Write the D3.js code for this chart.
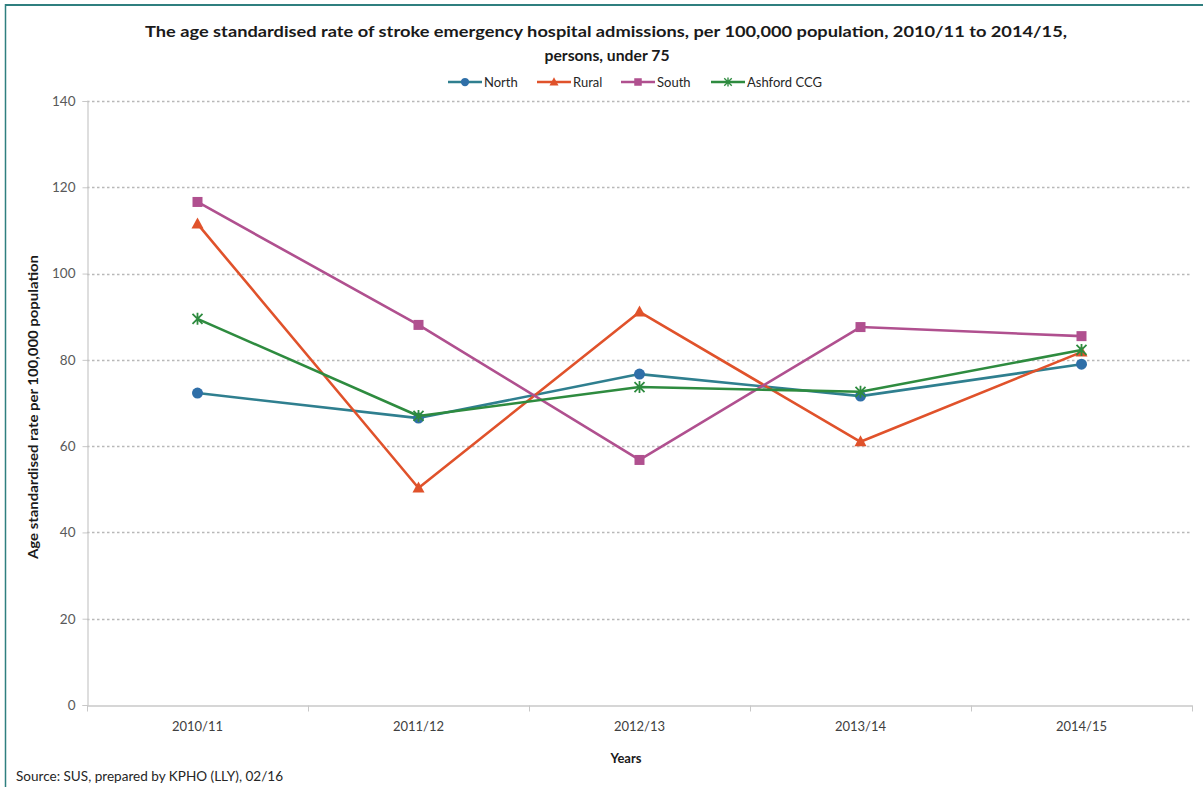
<!DOCTYPE html>
<html>
<head>
<meta charset="utf-8">
<script src="https://cdn.jsdelivr.net/npm/d3@7"></script>
<style>
  html, body { margin: 0; padding: 0; background: #fff; }
  svg { display: block; }
  text { font-family: Lato, "Open Sans", sans-serif; }
</style>
</head>
<body>
<svg id="chart" width="1203" height="787"></svg>
<script>
// Financial years on the x axis
const years = ["2010/11", "2011/12", "2012/13", "2013/14", "2014/15"];

// Age standardised rate per 100,000, persons under 75
const north   = [72.3, 66.5, 76.7, 71.6, 79.0];
const rural   = [111.5, 50.3, 91.1, 61.0, 81.8];
const south   = [116.6, 88.1, 56.8, 87.6, 85.5];
const ashford = [89.5, 67.0, 73.7, 72.6, 82.3];

const yTicks = [0, 20, 40, 60, 80, 100, 120, 140];

const seriesNames = ["North", "Rural", "South", "Ashford CCG"];
const seriesValues = [north, rural, south, ashford];
const lineColors = ["#2f7f8f", "#e0522b", "#b0508f", "#2e8b3f"];
const markerColors = ["#2f6fa8", "#e0522b", "#b0508f", "#2e8b3f"];
const markerTypes = ["circle", "triangle", "square", "star"];

const svg = d3.select("#chart");
const W = 1203, H = 787;
const margin = { left: 87, right: 11, top: 101, bottom: 82 };

// frame
svg.append("line").attr("x1", 5).attr("x2", W).attr("y1", 5).attr("y2", 5)
  .attr("stroke", "#2f7f7f").attr("stroke-width", 2);
svg.append("line").attr("x1", 5.5).attr("x2", 5.5).attr("y1", 4).attr("y2", H)
  .attr("stroke", "#2f7f7f").attr("stroke-width", 1.5);

const x = d3.scaleBand().domain(years).range([margin.left, W - margin.right]);
const y = d3.scaleLinear().domain([0, 140]).range([H - margin.bottom, margin.top]);

// gridlines
svg.append("g").selectAll("line").data(yTicks.filter(d => d > 0)).join("line")
  .attr("x1", margin.left).attr("x2", W - margin.right)
  .attr("y1", d => Math.round(y(d)) + 0.5).attr("y2", d => Math.round(y(d)) + 0.5)
  .attr("stroke", "#b8b8b8").attr("stroke-width", 1.3).attr("stroke-dasharray", "2.5,2.5");

// y axis
const yAxis = d3.axisLeft(y).tickValues(yTicks).tickSize(5).tickPadding(7);
const gy = svg.append("g").attr("transform", `translate(${margin.left + 0.5},0)`).call(yAxis);
gy.select(".domain").attr("stroke", "#c8c8c8").attr("stroke-width", 1.2);
gy.selectAll(".tick line").attr("stroke", "#c8c8c8");
gy.selectAll(".tick text").attr("fill", "#595959").style("font-size", "13.5px")
  .style("font-family", "Lato, sans-serif");

// x axis
const xAxis = d3.axisBottom(x).tickSize(0).tickPadding(16);
const gx = svg.append("g").attr("transform", `translate(0,${y(0) + 0.5})`).call(xAxis);
gx.select(".domain").attr("stroke", "#c8c8c8").attr("stroke-width", 1.5);
gx.selectAll(".tick text").attr("fill", "#404040").style("font-size", "13px")
  .style("font-family", "Lato, sans-serif");
// boundary ticks between categories
const bounds = years.map(d => x(d)).concat([x(years[years.length - 1]) + x.bandwidth()]);
gx.append("g").selectAll("line").data(bounds).join("line")
  .attr("x1", d => Math.round(d) + 0.5).attr("x2", d => Math.round(d) + 0.5)
  .attr("y1", 0).attr("y2", 6).attr("stroke", "#c8c8c8");

// titles
svg.append("text").attr("x", 606).attr("y", 37).attr("text-anchor", "middle")
  .style("font-size", "15.5px").style("font-weight", "bold").attr("fill", "#1a1a1a")
  .attr("textLength", 922).attr("lengthAdjust", "spacingAndGlyphs")
  .text("The age standardised rate of stroke emergency hospital admissions,  per 100,000 population,  2010/11 to 2014/15,");
svg.append("text").attr("x", 607).attr("y", 61).attr("text-anchor", "middle")
  .style("font-size", "15.5px").style("font-weight", "bold").attr("fill", "#1a1a1a")
  .attr("textLength", 125).attr("lengthAdjust", "spacingAndGlyphs")
  .text("persons, under 75");

svg.append("text").attr("x", 626).attr("y", 763).attr("text-anchor", "middle")
  .style("font-size", "13px").style("font-weight", "bold").attr("fill", "#1a1a1a")
  .text("Years");

svg.append("text").attr("transform", `translate(38,407) rotate(-90)`)
  .attr("text-anchor", "middle")
  .style("font-size", "13.5px").style("font-weight", "bold").attr("fill", "#1a1a1a")
  .attr("textLength", 304).attr("lengthAdjust", "spacingAndGlyphs")
  .text("Age standardised rate per 100,000 population");

svg.append("text").attr("x", 16).attr("y", 781)
  .style("font-size", "12.5px").attr("fill", "#262626")
  .attr("textLength", 267).attr("lengthAdjust", "spacingAndGlyphs")
  .text("Source: SUS, prepared by KPHO (LLY), 02/16");

// markers
function drawMarker(g, type, cx, cy, color) {
  if (type === "circle") {
    g.append("circle").attr("cx", cx).attr("cy", cy).attr("r", 5.5).attr("fill", color);
  } else if (type === "triangle") {
    g.append("path").attr("d", `M${cx},${cy - 6.5}L${cx + 6},${cy + 4.5}L${cx - 6},${cy + 4.5}Z`).attr("fill", color);
  } else if (type === "square") {
    g.append("rect").attr("x", cx - 5).attr("y", cy - 5).attr("width", 10).attr("height", 10).attr("fill", color);
  } else {
    const s = 5;
    g.append("path")
      .attr("d", `M${cx - s},${cy - s}L${cx + s},${cy + s}M${cx - s},${cy + s}L${cx + s},${cy - s}M${cx},${cy - s - 1}L${cx},${cy + s + 1}`)
      .attr("stroke", color).attr("stroke-width", 1.8).attr("fill", "none");
  }
}

const line = d3.line().x((d, i) => x(years[i]) + x.bandwidth() / 2).y(d => y(d));
const plot = svg.append("g");
seriesValues.forEach((vals, k) => {
  const g = plot.append("g");
  g.append("path").datum(vals).attr("d", line)
    .attr("fill", "none").attr("stroke", lineColors[k]).attr("stroke-width", 2.6)
    .attr("stroke-linejoin", "round");
  vals.forEach((v, i) => drawMarker(g, markerTypes[k], x(years[i]) + x.bandwidth() / 2, y(v), markerColors[k]));
});

// legend
const legendX = [448, 537, 621, 711];
const legend = svg.append("g").attr("transform", "translate(0,82)");
seriesNames.forEach((name, k) => {
  const lx = legendX[k];
  legend.append("line").attr("x1", lx).attr("x2", lx + 34).attr("y1", 0).attr("y2", 0)
    .attr("stroke", lineColors[k]).attr("stroke-width", 2.6);
  const g = legend.append("g");
  const shrink = g.append("g").attr("transform", `translate(${lx + 17},0) scale(0.75) translate(${-(lx + 17)},0)`);
  drawMarker(shrink, markerTypes[k], lx + 17, 0, markerColors[k]);
  legend.append("text").attr("x", lx + 36).attr("y", 4.5)
    .style("font-size", "13px").attr("fill", "#262626").text(name);
});
</script>
</body>
</html>
